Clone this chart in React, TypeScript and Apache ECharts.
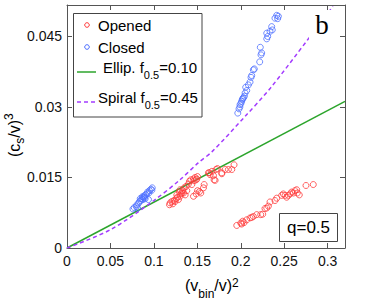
import React, { useEffect, useRef } from "react";
import * as echarts from "echarts";

const RED = "#ff3b3b";
const BLUE = "#4d6fff";
const GREEN = "#2ca52c";
const PURPLE = "#a33cff";
const FRAME = "#555555";
const FONT = "'Liberation Sans', Arial, Helvetica, sans-serif";

// Opened (red hollow circles)
const openedPoints: [number, number][] = [
  [0.1180, 0.0092], [0.1187, 0.0096], [0.1207, 0.0099], [0.1218, 0.0094], [0.1233, 0.0101],
  [0.1245, 0.0099], [0.1256, 0.0105], [0.1264, 0.0113], [0.1272, 0.0108], [0.1283, 0.0103],
  [0.1295, 0.0119], [0.1302, 0.0110], [0.1302, 0.0124], [0.1310, 0.0115], [0.1322, 0.0117],
  [0.1333, 0.0122], [0.1341, 0.0117], [0.1348, 0.0128], [0.1360, 0.0113], [0.1371, 0.0131],
  [0.1379, 0.0122], [0.1398, 0.0136], [0.1410, 0.0142], [0.1425, 0.0145], [0.1437, 0.0135],
  [0.1456, 0.0147], [0.1456, 0.0110], [0.1464, 0.0143], [0.1475, 0.0150], [0.1487, 0.0145],
  [0.1487, 0.0115], [0.1494, 0.0147], [0.1502, 0.0152], [0.1502, 0.0122], [0.1525, 0.0120],
  [0.1540, 0.0117], [0.1571, 0.0128], [0.1579, 0.0135], [0.1628, 0.0160], [0.1640, 0.0160],
  [0.1648, 0.0156], [0.1667, 0.0163], [0.1686, 0.0154], [0.1693, 0.0145], [0.1705, 0.0144],
  [0.1716, 0.0167], [0.1732, 0.0169], [0.1782, 0.0160], [0.1782, 0.0158], [0.1820, 0.0167],
  [0.1858, 0.0167], [0.1897, 0.0167], [0.1923, 0.0177],
  [0.1954, 0.0048], [0.2000, 0.0053], [0.2011, 0.0051], [0.2023, 0.0057], [0.2038, 0.0054],
  [0.2069, 0.0060], [0.2107, 0.0064], [0.2126, 0.0065], [0.2145, 0.0067], [0.2184, 0.0071],
  [0.2230, 0.0071], [0.2253, 0.0072], [0.2279, 0.0084], [0.2299, 0.0085], [0.2318, 0.0089],
  [0.2337, 0.0098], [0.2394, 0.0101], [0.2414, 0.0106], [0.2471, 0.0112], [0.2490, 0.0115],
  [0.2510, 0.0112], [0.2529, 0.0108], [0.2548, 0.0112], [0.2567, 0.0115], [0.2586, 0.0119],
  [0.2605, 0.0117], [0.2624, 0.0122], [0.2644, 0.0124], [0.2651, 0.0117], [0.2674, 0.0113],
  [0.2751, 0.0133], [0.2835, 0.0135],
];

// Closed (blue hollow circles)
const closedPoints: [number, number][] = [
  [0.0759, 0.0083], [0.0774, 0.0086], [0.0797, 0.0088], [0.0805, 0.0092], [0.0812, 0.0085],
  [0.0823, 0.0095], [0.0835, 0.0099], [0.0843, 0.0105], [0.0851, 0.0101], [0.0862, 0.0105],
  [0.0866, 0.0109], [0.0874, 0.0103], [0.0881, 0.0108], [0.0889, 0.0111], [0.0893, 0.0107],
  [0.0900, 0.0105], [0.0904, 0.0113], [0.0920, 0.0115], [0.0927, 0.0119], [0.0938, 0.0103],
  [0.0943, 0.0117], [0.0950, 0.0122], [0.0966, 0.0125], [0.0977, 0.0123], [0.0981, 0.0128],
  [0.1966, 0.0287], [0.1980, 0.0296], [0.1990, 0.0300], [0.1992, 0.0305], [0.2003, 0.0308],
  [0.2010, 0.0312], [0.2018, 0.0316], [0.2025, 0.0318], [0.2030, 0.0320], [0.2042, 0.0323],
  [0.2050, 0.0330], [0.2069, 0.0335], [0.2057, 0.0342], [0.2088, 0.0347], [0.2107, 0.0353],
  [0.2118, 0.0363], [0.2126, 0.0367], [0.2145, 0.0379], [0.2156, 0.0381], [0.2218, 0.0396],
  [0.2233, 0.0411], [0.2241, 0.0415], [0.2225, 0.0427], [0.2299, 0.0445], [0.2310, 0.0450],
  [0.2299, 0.0457], [0.2337, 0.0461], [0.2356, 0.0471], [0.2363, 0.0464], [0.2394, 0.0489],
  [0.2414, 0.0495], [0.2433, 0.0493], [0.2425, 0.0488],
];

// Ellip. f0.5=0.10 (straight line)
const ellipX = [0, 0.32];
const ellipY = [0, 0.0312];

// Spiral f0.5=0.45 (dashed curve)
const spiralX = [0, 0.05, 0.1, 0.13, 0.151, 0.167, 0.205, 0.234, 0.277, 0.306];
const spiralY = [0, 0.0039, 0.0101, 0.0145, 0.0181, 0.0205, 0.028, 0.034, 0.0443, 0.0514];

const xTickValues = [0, 0.05, 0.1, 0.15, 0.2, 0.25, 0.3];
const yTickValues = [0, 0.015, 0.03, 0.045];
const xMax = 0.32;
const yMax = 0.0517;

const legendNames = ["Opened", "Closed"];

function measure(t: string, size: number) {
  const c = document.createElement("canvas").getContext("2d");
  if (!c) return t.length * size * 0.55;
  c.font = `${size}px "Liberation Sans"`;
  return c.measureText(t).width;
}

function runText(x0: number, y: number, parts: [string, number, number][], z = 110) {
  const els: any[] = [];
  let x = x0;
  for (const [t, size, dy] of parts) {
    els.push({
      type: "text",
      z,
      x,
      y: y + dy,
      style: {
        text: t,
        font: `${size}px ${FONT}`,
        fill: "#000",
        textAlign: "left",
        textVerticalAlign: "middle",
        align: "left",
        verticalAlign: "middle",
      },
    });
    x += measure(t, size);
  }
  return els;
}

function tickFormatter(ticks: number[]) {
  return (v: number) => {
    const hit = ticks.some((t) => Math.abs(t - v) < 1e-9);
    if (!hit) return "";
    return String(+v.toFixed(4));
  };
}

export default function App() {
  const ref = useRef<HTMLDivElement>(null);
  useEffect(() => {
    if (!ref.current) return;
    const chart = echarts.init(ref.current, undefined, { renderer: "svg" });
    const xInterval = xTickValues[1] - xTickValues[0];
    const yInterval = yTickValues[1] - yTickValues[0];
    const axisLine = { show: true, onZero: false, lineStyle: { color: FRAME, width: 1 } };
    const axisTick = { show: true, inside: true, length: 5, lineStyle: { color: FRAME, width: 1 } };
    const labelStyle = { fontSize: 14, fontFamily: FONT, color: "#111" };

    const graphic: any[] = [
      // legend
      {
        type: "rect", z: 100,
        shape: { x: 73.5, y: 13.5, width: 128.5, height: 103.5 },
        style: { fill: "#fff", stroke: "#444", lineWidth: 1 },
      },
      { type: "circle", z: 101, shape: { cx: 87, cy: 25, r: 2.3 }, style: { fill: "none", stroke: RED, lineWidth: 1 } },
      { type: "circle", z: 101, shape: { cx: 87, cy: 47, r: 2.3 }, style: { fill: "none", stroke: BLUE, lineWidth: 1 } },
      { type: "line", z: 101, shape: { x1: 77, y1: 72, x2: 96, y2: 72 }, style: { stroke: GREEN, lineWidth: 1.5 } },
      { type: "line", z: 101, shape: { x1: 77, y1: 102, x2: 96, y2: 102 }, style: { stroke: PURPLE, lineWidth: 1.5, lineDash: [4, 3] } },
      ...runText(98, 25, [[legendNames[0], 15, 0]]),
      ...runText(98, 47, [[legendNames[1], 15, 0]]),
      ...runText(103, 67, [["Ellip. f", 15, 0], ["0.5", 11, 8], ["=0.10", 15, 0]]),
      ...runText(98, 97, [["Spiral f", 15, 0], ["0.5", 11, 8], ["=0.45", 15, 0]]),
      // panel letter
      { type: "rect", z: 100, shape: { x: 309, y: 10, width: 27, height: 32 }, style: { fill: "#fff", stroke: "none" } },
      {
        type: "text", z: 101, x: 322, y: 25,
        style: {
          text: "b", font: "27px 'Liberation Serif', 'DejaVu Serif', serif", fill: "#000",
          textAlign: "center", textVerticalAlign: "middle", align: "center", verticalAlign: "middle",
        },
      },
      // q box
      { type: "rect", z: 100, shape: { x: 279.5, y: 213.5, width: 58, height: 28 }, style: { fill: "#fff", stroke: "#444", lineWidth: 1 } },
      {
        type: "text", z: 101, x: 308.5, y: 227.5,
        style: {
          text: "q=0.5", font: `17px ${FONT}`, fill: "#000",
          textAlign: "center", textVerticalAlign: "middle", align: "center", verticalAlign: "middle",
        },
      },
      // x axis title
      ...runText(185, 285.5, [["(v", 16, 0], ["bin", 12, 8], ["/v)", 16, 0], ["2", 12, -3]]),
      // y axis title (rotated)
      {
        type: "group", x: 14, y: 157, rotation: Math.PI / 2, z: 110,
        children: runText(0, 0, [["(c", 16, 0], ["s", 12, 6], ["/v)", 16, 0], ["3", 12, -5]]),
      },
    ];

    chart.setOption({
      animation: false,
      backgroundColor: "#fff",
      grid: { left: 67, right: 23, top: 5, bottom: 52, containLabel: false },
      xAxis: [
        {
          type: "value", min: 0, max: xMax, interval: xInterval, position: "bottom",
          axisLine, axisTick, splitLine: { show: false },
          axisLabel: { ...labelStyle, margin: 6, formatter: tickFormatter(xTickValues) },
        },
        {
          type: "value", min: 0, max: xMax, interval: xInterval, position: "top",
          axisLine, axisTick, splitLine: { show: false }, axisLabel: { show: false },
        },
      ],
      yAxis: [
        {
          type: "value", min: 0, max: yMax, interval: yInterval, position: "left",
          axisLine, axisTick, splitLine: { show: false },
          axisLabel: { ...labelStyle, margin: 5, formatter: tickFormatter(yTickValues) },
        },
        {
          type: "value", min: 0, max: yMax, interval: yInterval, position: "right",
          axisLine, axisTick, splitLine: { show: false }, axisLabel: { show: false },
        },
      ],
      series: [
        {
          name: "Ellip.", type: "line", xAxisIndex: 0, yAxisIndex: 0,
          data: ellipX.map((x, i) => [x, ellipY[i]]),
          showSymbol: false, symbol: "none",
          lineStyle: { color: GREEN, width: 1.5 }, z: 3,
        },
        {
          name: "Spiral", type: "line", xAxisIndex: 0, yAxisIndex: 0,
          data: spiralX.map((x, i) => [x, spiralY[i]]),
          showSymbol: false, symbol: "none", smooth: 0.3,
          lineStyle: { color: PURPLE, width: 1.5, type: [4, 3] }, z: 3,
        },
        {
          name: legendNames[0], type: "scatter", xAxisIndex: 0, yAxisIndex: 0,
          data: openedPoints, symbol: "circle", symbolSize: 6,
          itemStyle: { color: "rgba(0,0,0,0)", borderColor: RED, borderWidth: 1 }, z: 4,
        },
        {
          name: legendNames[1], type: "scatter", xAxisIndex: 0, yAxisIndex: 0,
          data: closedPoints, symbol: "circle", symbolSize: 6,
          itemStyle: { color: "rgba(0,0,0,0)", borderColor: BLUE, borderWidth: 1 }, z: 4,
        },
      ],
      graphic,
    });
    return () => chart.dispose();
  }, []);
  return (
    <div
      ref={ref}
      style={{ position: "absolute", left: 0, top: 0, width: 368, height: 300 }}
    />
  );
}
